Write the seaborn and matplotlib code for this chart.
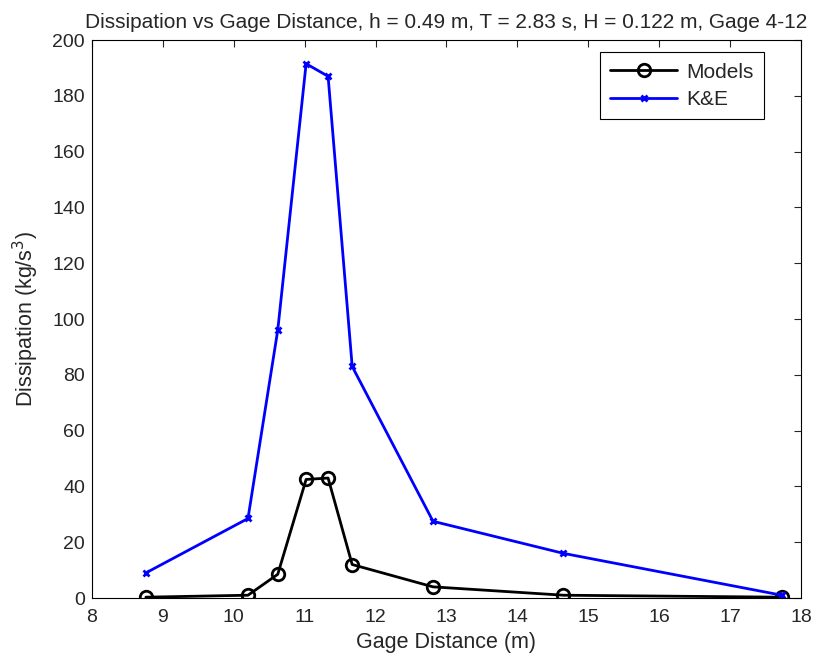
import numpy as np
import pandas as pd
import seaborn as sns
import matplotlib.pyplot as plt

# datos
gage_distance = [8.76, 10.2, 10.62, 11.02, 11.33, 11.67, 12.81, 14.65, 17.73]
models = [0.3, 1.0, 8.5, 42.5, 43.0, 12.0, 4.0, 1.0, 0.3]
k_and_e = [9.0, 28.5, 96.0, 191.5, 187.0, 83.0, 27.5, 16.0, 1.0]

df = pd.DataFrame({'x': gage_distance, 'Models': models, 'K&E': k_and_e})

sns.set_style('white')
plt.rcParams['font.family'] = ['Liberation Sans', 'DejaVu Sans']

fig = plt.figure(figsize=(8.17, 6.56), dpi=100)
ax = fig.add_axes([0.1126, 0.0884, 0.8678, 0.8506])

sns.lineplot(data=df, x='x', y='Models', ax=ax, color='black', lw=2,
             marker='o', markersize=9, markerfacecolor='none',
             markeredgecolor='black', markeredgewidth=2, label='Models')
sns.lineplot(data=df, x='x', y='K&E', ax=ax, color='blue', lw=2,
             marker='x', markersize=5, markeredgewidth=2,
             markeredgecolor='blue', label='K&E')

ax.set_xlim(8, 18)
ax.set_ylim(0, 200)
ax.set_xticks(np.arange(8, 19, 1))
ax.set_yticks(np.arange(0, 201, 20))
ax.tick_params(direction='in', top=True, right=True, length=5, width=0.8,
               labelsize=14)
ax.tick_params(axis='x', pad=8)
ax.tick_params(axis='y', pad=5)
for s in ax.spines.values():
    s.set_visible(True)
    s.set_color('black')
    s.set_linewidth(0.8)

ax.set_xlabel('Gage Distance (m)', fontsize=15.5, labelpad=4)
ax.set_ylabel('Dissipation (kg/s$^3$)', fontsize=15.5, labelpad=8)
ax.set_title('Dissipation vs Gage Distance, h = 0.49 m, T = 2.83 s, H = 0.122 m, Gage 4-12',
             fontsize=15.05, pad=9)

leg = ax.legend(loc='upper right', bbox_to_anchor=(0.948, 0.978), fontsize=15,
                fancybox=False, framealpha=1, edgecolor='black',
                handlelength=3.2, handletextpad=0.45, borderpad=0.5,
                labelspacing=0.4, borderaxespad=0)
leg.get_frame().set_linewidth(0.8)

fig.savefig('out.png', dpi=100)
